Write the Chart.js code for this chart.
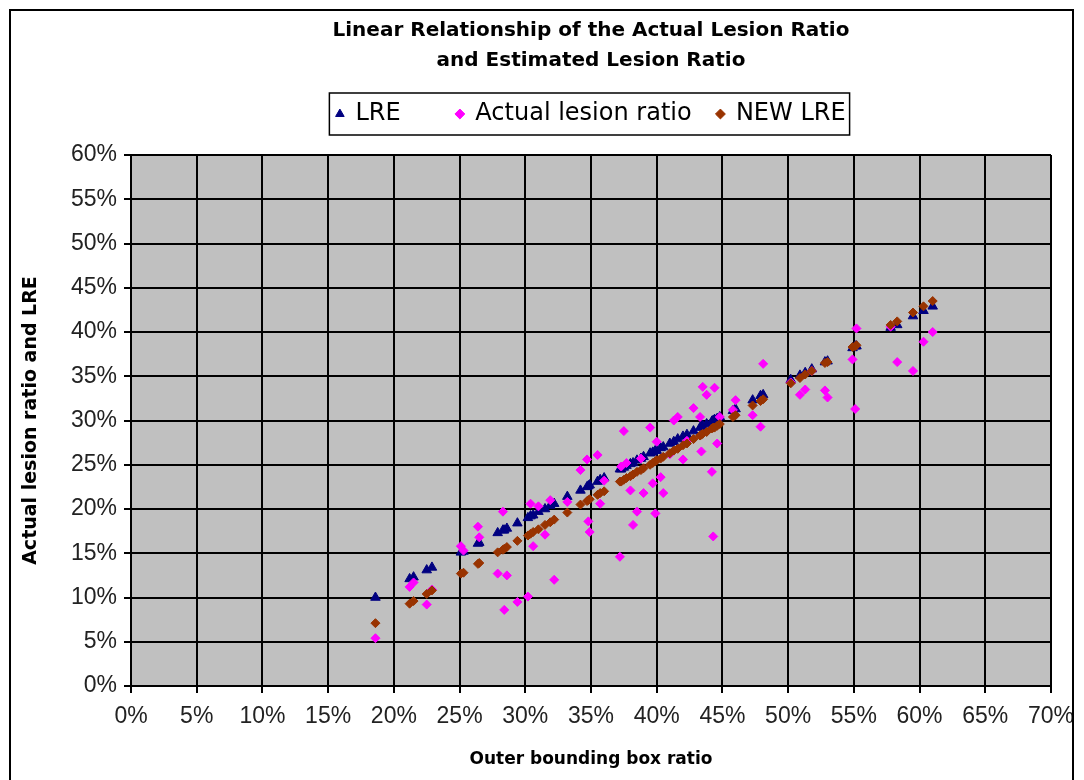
<!DOCTYPE html>
<html>
<head>
<meta charset="utf-8">
<script src="https://cdn.jsdelivr.net/npm/chart.js@4/dist/chart.umd.min.js"></script>
<style>
  html, body { margin: 0; padding: 0; background: #fff; }
  #wrap { width: 1084px; height: 780px; position: relative; }
</style>
</head>
<body>
<div id="wrap"><canvas id="lesion_chart" width="1084" height="780"></canvas></div>
<script>
// outer bounding box ratio (%) for every sample
const boxRatio = [18.6, 21.2, 21.5, 22.5, 22.9, 25.1, 25.3, 26.4, 26.5, 27.9,
    28.3, 28.4, 28.6, 29.4, 30.2, 30.4, 30.6, 31.0, 31.5, 31.9,
    32.2, 33.2, 34.2, 34.7, 34.8, 34.9, 35.5, 35.7, 36.0, 37.2,
    37.3, 37.5, 37.7, 38.0, 38.2, 38.5, 38.8, 39.0, 39.5, 39.7,
    39.9, 40.0, 40.3, 40.5, 41.0, 41.3, 41.6, 42.0, 42.3, 42.8,
    43.3, 43.4, 43.5, 43.8, 44.2, 44.3, 44.4, 44.6, 44.8, 45.8,
    46.0, 47.3, 47.9, 48.1, 50.2, 50.9, 51.3, 51.8, 52.8, 53.0,
    54.9, 55.1, 55.2, 57.8, 58.3, 59.5, 60.3, 61.0];

// estimated lesion ratio (LRE)
const lre = [10.0, 12.1, 12.3, 13.1, 13.4, 15.1, 15.2, 16.1, 16.2, 17.3,
    17.6, 17.6, 17.8, 18.4, 19.0, 19.2, 19.3, 19.7, 20.0, 20.4,
    20.6, 21.4, 22.1, 22.5, 22.6, 22.7, 23.1, 23.3, 23.5, 24.5,
    24.5, 24.7, 24.9, 25.1, 25.2, 25.5, 25.7, 25.9, 26.3, 26.4,
    26.6, 26.6, 26.9, 27.0, 27.4, 27.6, 27.9, 28.2, 28.4, 28.8,
    29.2, 29.3, 29.4, 29.6, 29.9, 30.0, 30.1, 30.2, 30.4, 31.1,
    31.3, 32.3, 32.8, 32.9, 34.6, 35.1, 35.4, 35.8, 36.6, 36.7,
    38.2, 38.4, 38.4, 40.5, 40.8, 41.8, 42.4, 42.9];

// actual lesion ratio
const actualRatio = [5.4, 11.2, 11.7, 9.2, 10.9, 15.8, 15.3, 18.0, 16.8, 12.7,
    19.7, 8.6, 12.5, 9.5, 10.1, 20.6, 15.8, 20.3, 17.1, 21.0,
    12.0, 20.8, 24.4, 25.6, 18.6, 17.4, 26.1, 20.6, 23.2, 14.6,
    24.8, 28.8, 25.2, 22.1, 18.2, 19.7, 25.7, 21.8, 29.2, 22.9,
    19.5, 27.6, 23.6, 21.8, 26.2, 30.0, 30.4, 25.6, 27.7, 31.4,
    30.4, 26.5, 33.8, 32.9, 24.2, 16.9, 33.7, 27.4, 30.4, 31.2,
    32.3, 30.6, 29.3, 36.4, 34.3, 32.9, 33.5, 35.6, 33.4, 32.6,
    36.9, 31.3, 40.4, 40.6, 36.6, 35.6, 38.9, 40.0];

// new estimated lesion ratio
const newLre = [7.1, 9.3, 9.6, 10.4, 10.8, 12.7, 12.8, 13.8, 13.9, 15.1,
    15.4, 15.5, 15.7, 16.4, 17.0, 17.2, 17.4, 17.7, 18.2, 18.5,
    18.8, 19.6, 20.5, 20.9, 21.0, 21.1, 21.6, 21.8, 22.0, 23.1,
    23.1, 23.3, 23.5, 23.7, 23.9, 24.2, 24.4, 24.6, 25.0, 25.2,
    25.4, 25.5, 25.7, 25.9, 26.3, 26.6, 26.8, 27.2, 27.4, 27.9,
    28.3, 28.4, 28.5, 28.7, 29.1, 29.2, 29.2, 29.4, 29.6, 30.4,
    30.6, 31.7, 32.2, 32.4, 34.2, 34.8, 35.2, 35.6, 36.5, 36.6,
    38.3, 38.4, 38.5, 40.8, 41.2, 42.2, 42.9, 43.5];

const xMax = 70;
const yMax = 60;
const tickStep = 5;

function toPoints(values) {
    return boxRatio.map((x, i) => ({ x: x, y: values[i] }));
}

// grey plot area + black frames
const frames = {
    id: 'frames',
    beforeDraw(chart) {
        const { ctx, chartArea: a } = chart;
        ctx.save();
        ctx.fillStyle = '#c0c0c0';
        ctx.fillRect(a.left, a.top, a.right - a.left, a.bottom - a.top);
        ctx.restore();
    },
    afterDraw(chart) {
        const ctx = chart.ctx;
        ctx.save();
        ctx.strokeStyle = '#000';
        ctx.lineWidth = 2;
        ctx.strokeRect(10, 10, 1063, 790);
        // box round the legend
        let boxes = chart.legend.legendHitBoxes;
        if (boxes && boxes.length) {
            let left = Math.min(...boxes.map(b => b.left));
            let right = Math.max(...boxes.map(b => b.left + b.width));
            let top = Math.min(...boxes.map(b => b.top));
            let bottom = Math.max(...boxes.map(b => b.top + b.height));
            ctx.lineWidth = 1.5;
            ctx.strokeRect(left - 7, top - 9, right - left + 11, bottom - top + 18);
        }
        ctx.restore();
    }
};

// extra room after the label text, as in the original legend
const legendGap = ['      ', '  ', ''];

let canvas = document.querySelector('#lesion_chart');

let chart = new Chart(canvas, {
    type: 'scatter',
    data: {
        datasets: [{
            label: 'LRE',
            data: toPoints(lre),
            pointStyle: 'triangle',
            radius: 5.5,
            backgroundColor: '#000080',
            borderColor: '#000080',
            borderWidth: 1,
            order: 3
        }, {
            label: 'Actual lesion ratio',
            data: toPoints(actualRatio),
            pointStyle: 'rectRot',
            radius: 4.5,
            backgroundColor: '#ff00ff',
            borderColor: '#ff00ff',
            borderWidth: 1,
            order: 2
        }, {
            label: 'NEW LRE',
            data: toPoints(newLre),
            pointStyle: 'rectRot',
            radius: 4.5,
            backgroundColor: '#993300',
            borderColor: '#993300',
            borderWidth: 1,
            order: 1
        }]
    },
    options: {
        responsive: false,
        animation: false,
        layout: {
            padding: { left: 12, right: 33, top: 0, bottom: 0 }
        },
        scales: {
            x: {
                type: 'linear',
                min: 0,
                max: xMax,
                afterFit: scale => { scale.height = 94; },
                ticks: {
                    stepSize: tickStep,
                    color: '#222',
                    font: { family: 'Liberation Sans', size: 23 },
                    padding: 10,
                    callback: v => v + '%'
                },
                grid: {
                    color: '#000',
                    lineWidth: 2,
                    tickLength: 7
                },
                border: { color: '#000', width: 2 },
                title: {
                    display: true,
                    text: 'Outer bounding box ratio',
                    color: '#000',
                    font: { family: 'DejaVu Sans', size: 17, weight: 'bold' },
                    padding: { top: 0, bottom: 10 }
                }
            },
            y: {
                type: 'linear',
                min: 0,
                max: yMax,
                afterFit: scale => { scale.width = 119; },
                ticks: {
                    stepSize: tickStep,
                    color: '#222',
                    font: { family: 'Liberation Sans', size: 23 },
                    padding: 7,
                    callback: v => v + '%'
                },
                grid: {
                    color: '#000',
                    lineWidth: 2,
                    tickLength: 7
                },
                border: { color: '#000', width: 2 },
                title: {
                    display: true,
                    text: 'Actual lesion ratio and LRE',
                    color: '#000',
                    font: { family: 'DejaVu Sans', size: 19, weight: 'bold' },
                    padding: { top: 8, bottom: 0 }
                }
            }
        },
        plugins: {
            title: {
                display: true,
                fullSize: false,
                text: ['Linear Relationship of the Actual Lesion Ratio', 'and Estimated Lesion Ratio'],
                color: '#000',
                font: { family: 'DejaVu Sans', size: 20, weight: 'bold', lineHeight: '30px' },
                padding: { top: 16, bottom: 16 }
            },
            // empty spacer between the legend and the plot
            subtitle: {
                display: true,
                fullSize: false,
                text: '',
                font: { size: 10, lineHeight: '0px' },
                padding: { top: 19, bottom: 0 }
            },
            legend: {
                display: true,
                fullSize: false,
                weight: 1600,
                labels: {
                    usePointStyle: true,
                    boxWidth: 7,
                    boxHeight: 7,
                    padding: 10,
                    color: '#000',
                    font: { family: 'DejaVu Sans', size: 24 },
                    sort: (a, b) => a.datasetIndex - b.datasetIndex,
                    generateLabels: c => Chart.defaults.plugins.legend.labels.generateLabels(c)
                        .map(item => Object.assign(item, { text: item.text + legendGap[item.datasetIndex] }))
                }
            },
            tooltip: { enabled: false }
        }
    },
    plugins: [frames]
});
</script>
</body>
</html>
